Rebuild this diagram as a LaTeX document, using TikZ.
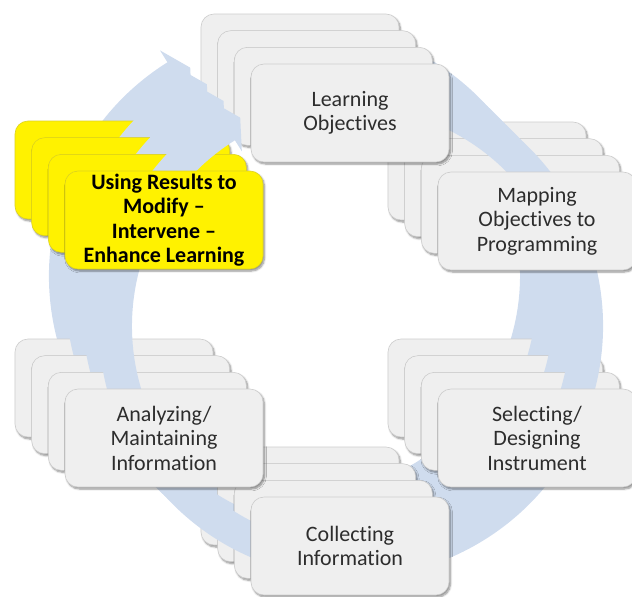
\documentclass[tikz,border=0pt]{standalone}
\usepackage{fontspec}
\setmainfont{Carlito}[Ligatures=CommonOff]
\usetikzlibrary{shadows.blur}
\definecolor{ringblue}{RGB}{207,220,238}
\definecolor{cardgray}{RGB}{239,239,239}
\definecolor{cardline}{RGB}{205,205,205}
\definecolor{txtgray}{RGB}{45,45,45}
\newcommand{\ringshape}{%
  \fill[ring] (-72:252) arc[start angle=-72,end angle=238,radius=252]
    -- (238:266) -- (242:236) -- (238:206) -- (238:219)
    arc[start angle=238,end angle=-72,radius=219] -- cycle;}
\begin{document}
\begin{tikzpicture}[x=1pt,y=-1pt,
  card/.style={rounded corners=13pt, minimum width=198pt, minimum height=98pt,
    inner sep=2pt, fill=cardgray, draw=cardline, line width=0.6pt,
    blur shadow={shadow xshift=1.5pt, shadow yshift=-2pt, shadow blur steps=6, shadow opacity=45},
    align=center, font=\fontsize{22}{24.5}\selectfont, text=txtgray},
  hicard/.style={card, fill=yellow, draw=yellow!85!black, text=black,
    font=\fontsize{22}{24.5}\selectfont\bfseries},
  ring/.style={fill=ringblue, draw=none}]
\useasboundingbox (0,0) rectangle (632,597);
% back layers
\foreach \k in {0,1,2}{
  \pgfmathsetmacro\s{(\k-3)*50/3}
  \begin{scope}[shift={(351+\s,326+\s)}]
    \ringshape
  \end{scope}
  \begin{scope}[shift={(\s,\s)}]
    \node[card] (lo\k) at (350,113) {};
    \node[card] (mo\k) at (537,221) {};
    \node[card] (si\k) at (537,438) {};
    \node[card] (ci\k) at (350,546) {};
    \node[card] (am\k) at (164,438) {};
    \node[hicard] (ur\k) at (164,220) {};
  \end{scope}
}
% front layer
\begin{scope}[shift={(351,326)}]
  \ringshape
\end{scope}
\node[card] (lo) at (350,113) {Learning\\Objectives};
\node[card] (mo) at (537,221) {Mapping\\Objectives to\\Programming};
\node[card] (si) at (537,438) {Selecting/\\Designing\\Instrument};
\node[card] (ci) at (350,546) {Collecting\\Information};
\node[card] (am) at (164,438) {Analyzing/\\Maintaining\\Information};
\node[hicard] (ur) at (164,220) {Using Results to\\Modify –\\Intervene –\\Enhance Learning};
\end{tikzpicture}
\end{document}
